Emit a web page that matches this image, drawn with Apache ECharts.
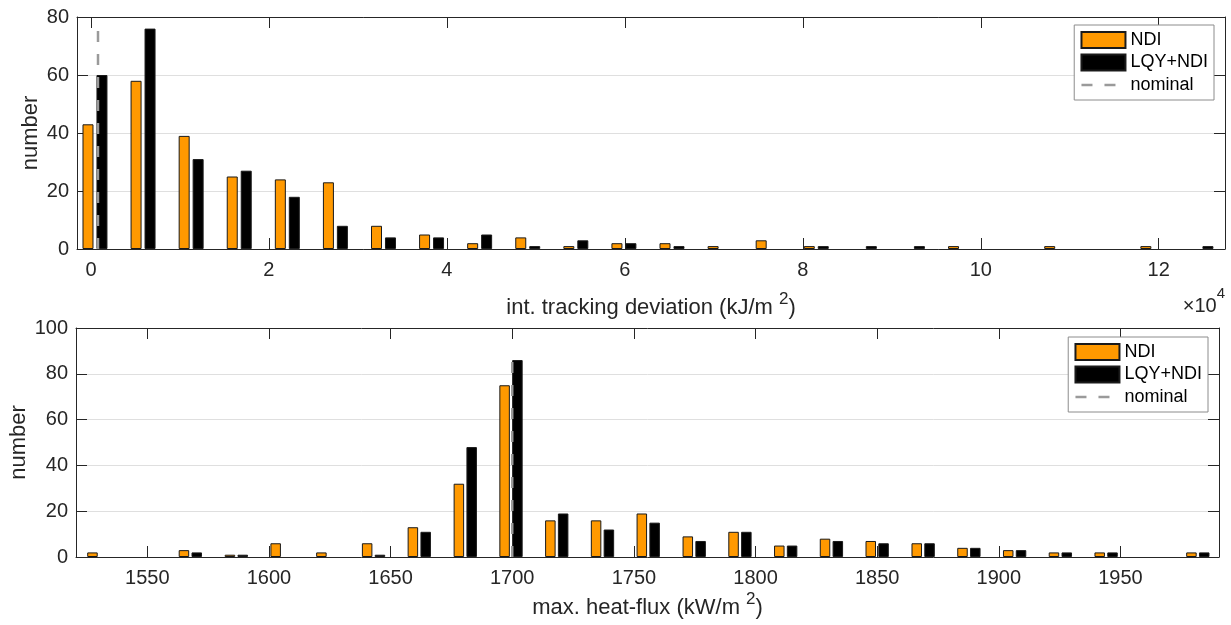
<!DOCTYPE html>
<html>
<head>
<meta charset="utf-8">
<script src="https://cdn.jsdelivr.net/npm/echarts@6/dist/echarts.min.js"></script>
<style>
  html, body { margin: 0; padding: 0; background: #ffffff; }
  #chart { width: 1231px; height: 625px; }
</style>
</head>
<body>
<div id="chart"></div>
<script>
// Integrated tracking deviation histogram (kJ/m^2), bin centres
const tdBins = [450, 5854, 11258, 16663, 22067, 27471, 32875, 38279, 43683, 49088, 54492, 59896,
                65300, 70704, 76108, 81513, 86917, 92321, 97725, 103129, 108533, 113938, 119342, 124746];
const tdNDI = [43, 58, 39, 25, 24, 23, 8, 5, 2, 4, 1, 2, 2, 1, 3, 1, 0, 0, 1, 0, 1, 0, 1, 0];
const tdLQY = [60, 76, 31, 27, 18, 8, 4, 4, 5, 1, 3, 2, 1, 0, 0, 1, 1, 1, 0, 0, 0, 0, 0, 1];
const tdTicks = [0, 20000, 40000, 60000, 80000, 100000, 120000];
const tdNominal = [[790, 0], [790, 77.5]];

// Maximum heat-flux histogram (kW/m^2), bin centres
const hfBins = [1530.1, 1548.9, 1567.7, 1586.6, 1605.4, 1624.2, 1643.0, 1661.8, 1680.7, 1699.5,
                1718.3, 1737.1, 1755.9, 1774.8, 1793.6, 1812.4, 1831.2, 1850.0, 1868.9, 1887.7,
                1906.5, 1925.3, 1944.1, 1963.0, 1981.8];
const hfNDI = [2, 0, 3, 1, 6, 2, 6, 13, 32, 75, 16, 16, 19, 9, 11, 5, 8, 7, 6, 4, 3, 2, 2, 0, 2];
const hfLQY = [0, 0, 2, 1, 0, 0, 1, 11, 48, 86, 19, 12, 15, 7, 11, 5, 7, 6, 6, 4, 3, 2, 2, 0, 2];
const hfTicks = [1550, 1600, 1650, 1700, 1750, 1800, 1850, 1900, 1950];
const hfNominal = [[1700, 0], [1700, 87.7]];

const FONT = '"Liberation Sans", Arial, Helvetica, sans-serif';
const INK = '#262626';
const ORANGE = '#ff9900';
const GRIDLINE = '#dfdfdf';
const NOMINAL = '#9a9a9a';
const DASH = [11, 12];

// empty bins get no outline so they leave no stub on the axis
const pair = (xs, ys) => xs.map((x, i) =>
  ys[i] === 0 ? { value: [x, 0], itemStyle: { borderWidth: 0 } } : [x, ys[i]]);

function frameAxis(extra) {
  return Object.assign({
    axisLine: { show: true, onZero: false, lineStyle: { color: INK, width: 1 } },
    axisTick: { show: true, inside: true, length: 11, lineStyle: { color: INK } },
    axisLabel: { show: false },
    splitLine: { show: false }
  }, extra);
}

function xMain(gridIndex, min, max, ticks, fmt, name, nameGap) {
  return {
    type: 'value', gridIndex, min, max, position: 'bottom',
    axisLine: { show: true, onZero: false, lineStyle: { color: INK, width: 1 } },
    axisTick: { show: true, inside: true, length: 11, customValues: ticks, lineStyle: { color: INK } },
    axisLabel: { show: true, customValues: ticks, formatter: fmt, color: INK, fontFamily: FONT, fontSize: 20, margin: 11 },
    splitLine: { show: false },
    name, nameLocation: 'middle', nameGap, nameMoveOverlap: false,
    nameTextStyle: {
      color: INK, fontFamily: FONT, fontSize: 22, lineHeight: 34,
      rich: {
        t: { color: INK, fontFamily: FONT, fontSize: 22, lineHeight: 34 },
        sup: { color: INK, fontFamily: FONT, fontSize: 17, lineHeight: 17, verticalAlign: 'top' }
      }
    }
  };
}

function yMain(gridIndex, max, nameGap) {
  return {
    type: 'value', gridIndex, min: 0, max, interval: 20, position: 'left',
    axisLine: { show: true, onZero: false, lineStyle: { color: INK, width: 1 } },
    axisTick: { show: true, inside: true, length: 11, lineStyle: { color: INK } },
    axisLabel: { color: INK, fontFamily: FONT, fontSize: 20, margin: 8 },
    splitLine: { show: true, lineStyle: { color: GRIDLINE, width: 1 } },
    name: 'number', nameLocation: 'middle', nameGap, nameRotate: 90, nameMoveOverlap: false,
    nameTextStyle: { color: INK, fontFamily: FONT, fontSize: 22 }
  };
}

function bars(name, data, color, xi, yi, width, gap) {
  return {
    type: 'bar', name, data, xAxisIndex: xi, yAxisIndex: yi,
    barWidth: width, barGap: gap,
    itemStyle: { color, borderColor: '#1a1a1a', borderWidth: 1 },
    emphasis: { disabled: true },
    z: 2
  };
}

function nominal(data, xi, yi) {
  return {
    type: 'line', name: 'nominal', data, xAxisIndex: xi, yAxisIndex: yi,
    symbol: 'none', silent: true,
    itemStyle: { color: NOMINAL },
    lineStyle: { color: NOMINAL, width: 2.5, type: DASH },
    z: 5
  };
}

function legend(top, right) {
  return {
    top, right, orient: 'vertical', align: 'left',
    backgroundColor: '#ffffff', borderColor: '#8c8c8c', borderWidth: 1, borderRadius: 0,
    padding: [6, 6, 6, 6],
    itemWidth: 44, itemHeight: 16, itemGap: 4.5,
    textStyle: { color: '#000000', fontFamily: FONT, fontSize: 18, lineHeight: 18 },
    selectedMode: false,
    data: [
      { name: 'NDI', icon: 'rect' },
      { name: 'LQY+NDI', icon: 'rect' },
      { name: 'nominal', itemStyle: { opacity: 0 },
        lineStyle: { type: DASH, width: 2.5, color: NOMINAL } }
    ]
  };
}

const chart = echarts.init(document.getElementById('chart'), null, { renderer: 'canvas' });

chart.setOption({
  backgroundColor: '#ffffff',
  animation: false,
  grid: [
    { left: 77, top: 17, width: 1148, height: 232, outerBoundsMode: 'none', containLabel: false },
    { left: 76, top: 328, width: 1143, height: 229, outerBoundsMode: 'none', containLabel: false }
  ],
  xAxis: [
    xMain(0, -1570, 127450, tdTicks, v => String(v / 10000),
          '{t|int. tracking deviation (kJ/m }{sup|2}{t|)}', 42),
    frameAxis({ type: 'value', gridIndex: 0, min: -1570, max: 127450, position: 'top',
                axisTick: { show: true, inside: true, length: 11, customValues: tdTicks, lineStyle: { color: INK } } }),
    xMain(1, 1520.7, 1990.5, hfTicks, v => String(v),
          '{t|max. heat-flux (kW/m }{sup|2}{t|)}', 34),
    frameAxis({ type: 'value', gridIndex: 1, min: 1520.7, max: 1990.5, position: 'top',
                axisTick: { show: true, inside: true, length: 11, customValues: hfTicks, lineStyle: { color: INK } } })
  ],
  yAxis: [
    yMain(0, 80, 35),
    frameAxis({ type: 'value', gridIndex: 0, min: 0, max: 80, interval: 20, position: 'right' }),
    yMain(1, 100, 46),
    frameAxis({ type: 'value', gridIndex: 1, min: 0, max: 100, interval: 20, position: 'right' })
  ],
  legend: [legend(25, 17), legend(337, 23)],
  series: [
    bars('NDI', pair(tdBins, tdNDI), ORANGE, 0, 0, 11, '27%'),
    bars('LQY+NDI', pair(tdBins, tdLQY), '#000000', 0, 0, 11, '27%'),
    nominal(tdNominal, 0, 0),
    bars('NDI', pair(hfBins, hfNDI), ORANGE, 2, 2, 10.5, '22%'),
    bars('LQY+NDI', pair(hfBins, hfLQY), '#000000', 2, 2, 10.5, '22%'),
    nominal(hfNominal, 2, 2)
  ],
  graphic: [{
    type: 'text', right: 6, top: 286,
    style: {
      text: '{a|×10}{s|4}',
      rich: {
        a: { fill: INK, fontFamily: FONT, fontSize: 20, lineHeight: 30, verticalAlign: 'bottom' },
        s: { fill: INK, fontFamily: FONT, fontSize: 15, lineHeight: 15, verticalAlign: 'top' }
      }
    }
  }]
});
</script>
</body>
</html>
